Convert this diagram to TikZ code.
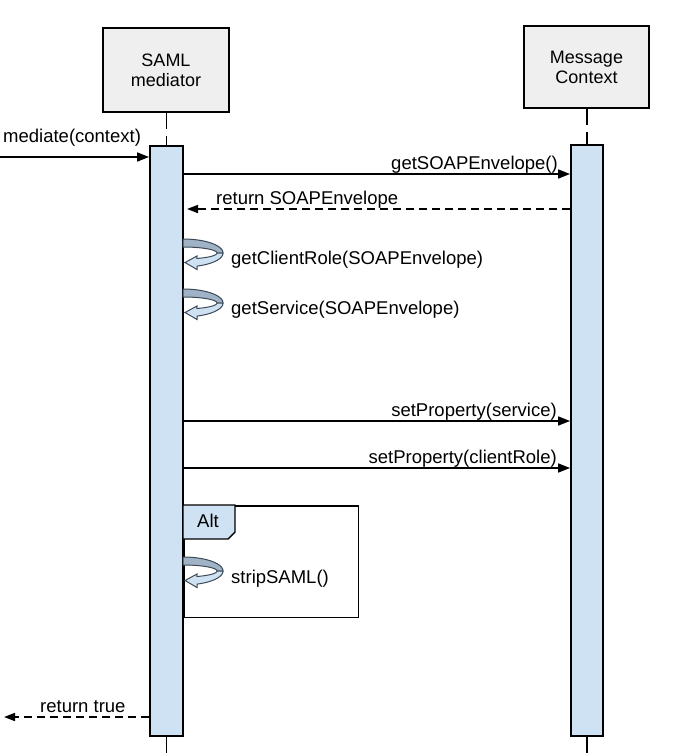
\documentclass[tikz,border=0pt]{standalone}
\usepackage{fontspec}
\setmainfont{Liberation Sans}
\usetikzlibrary{arrows.meta}
\definecolor{barblue}{HTML}{CFE2F3}
\definecolor{boxgray}{HTML}{EFEFEF}
\definecolor{loopback}{HTML}{9FB2C6}
\definecolor{loopedge}{HTML}{3C4A58}
\newcommand\selfloopat[1]{%
  \filldraw[fill=loopback, draw=loopedge, line width=1pt]
    plot[domain=-90:0, samples=30] ({183+40*cos(\x)},{#1+14+14*sin(\x)})
    -- plot[domain=0:-90, samples=30] ({183+34*cos(\x)},{#1+14+6*sin(\x)}) -- cycle;
  \filldraw[fill=barblue, draw=loopedge, line width=1pt]
    plot[domain=0:69.5, samples=30] ({183+40*cos(\x)},{#1+14+14*sin(\x)})
    -- (197,#1+30.5) -- (185,#1+23.5) -- (197,#1+17)
    -- plot[domain=65.7:0, samples=30] ({183+34*cos(\x)},{#1+14+6*sin(\x)}) -- cycle;
}
\begin{document}
\begin{tikzpicture}[x=1pt,y=-1pt,
  actor/.style={draw, fill=boxgray, line width=1.8pt, align=center,
    font=\fontsize{18}{20}\selectfont, inner sep=0pt},
  bar/.style={draw, fill=barblue, line width=1.8pt, inner sep=0pt},
  lifeline/.style={line width=1.8pt, dash pattern=on 16pt off 7pt},
  msg/.style={line width=1.6pt, -{Triangle[length=12pt,width=9pt]}},
  ret/.style={line width=1.6pt, dash pattern=on 8pt off 5pt, -{Triangle[length=11pt,width=8pt]}},
  lbl/.style={font=\fontsize{18.5}{20}\selectfont, inner sep=0pt}]
\useasboundingbox (0,0) rectangle (677,755);

% actors
\node[actor, minimum width=126pt, minimum height=84pt] (sbox) at (166,70) {SAML\\mediator};
\node[actor, minimum width=125pt, minimum height=82pt] (mbox) at (586.5,67) {Message\\Context};

% activation bars
\node[bar, minimum width=33pt, minimum height=590pt] (sbar) at (166.5,441) {};
\node[bar, minimum width=32pt, minimum height=591pt] (mbar) at (587,440.5) {};

% lifelines
\coordinate (send) at (166.5,755);
\coordinate (mend) at (587,755);
\draw[lifeline] (sbox.south -| sbar.north) -- (sbar.north);
\draw[lifeline] (mbox.south -| mbar.north) -- (mbar.north);
\draw[lifeline] (sbar.south) -- (send);
\draw[lifeline] (mbar.south) -- (mend);

% incoming call
\coordinate (callin) at (0,157);
\draw[msg] (callin) -- (callin -| sbar.west);
\node[lbl, anchor=base west] (lmed) at (3,142.5) {mediate(context)};

% getSOAPEnvelope
\coordinate (m1) at (300,174);
\draw[msg] (m1 -| sbar.east) -- (m1 -| mbar.west);
\node[lbl, anchor=base east] (l1) at (558,169.5) {getSOAPEnvelope()};

% return SOAPEnvelope
\coordinate (m2) at (300,209);
\coordinate (m2tip) at (187,209);
\draw[ret] (m2 -| mbar.west) -- (m2tip);
\node[lbl, anchor=base west] (l2) at (216,204.5) {return SOAPEnvelope};

% self calls
\selfloopat{239}
\node[lbl, anchor=base west] (l3) at (231,264.5) {getClientRole(SOAPEnvelope)};
\selfloopat{289}
\node[lbl, anchor=base west] (l4) at (231,314.5) {getService(SOAPEnvelope)};

% setProperty
\coordinate (m5) at (300,421);
\draw[msg] (m5 -| sbar.east) -- (m5 -| mbar.west);
\node[lbl, anchor=base east] (l5) at (557,416.7) {setProperty(service)};
\coordinate (m6) at (300,468);
\draw[msg] (m6 -| sbar.east) -- (m6 -| mbar.west);
\node[lbl, anchor=base east] (l6) at (557,463.5) {setProperty(clientRole)};

% Alt frame
\node[draw, line width=1.6pt, minimum width=174.7pt, minimum height=111.7pt, anchor=north west, inner sep=0pt] (alt) at (183,505) {};
\filldraw[fill=barblue, line width=1.4pt] (alt.north west) -- (235,505) -- (235,532) -- (228,539) -- (183,539) -- cycle;
\node[lbl, anchor=base] (lalt) at (208,527) {Alt};
\selfloopat{557}
\node[lbl, anchor=base west] (l7) at (231,583.5) {stripSAML()};

% return true
\coordinate (m8) at (300,717);
\coordinate (m8tip) at (4,717);
\draw[ret] (m8 -| sbar.west) -- (m8tip);
\node[lbl, anchor=base west] (l8) at (40,712.5) {return true};
\end{tikzpicture}
\end{document}
